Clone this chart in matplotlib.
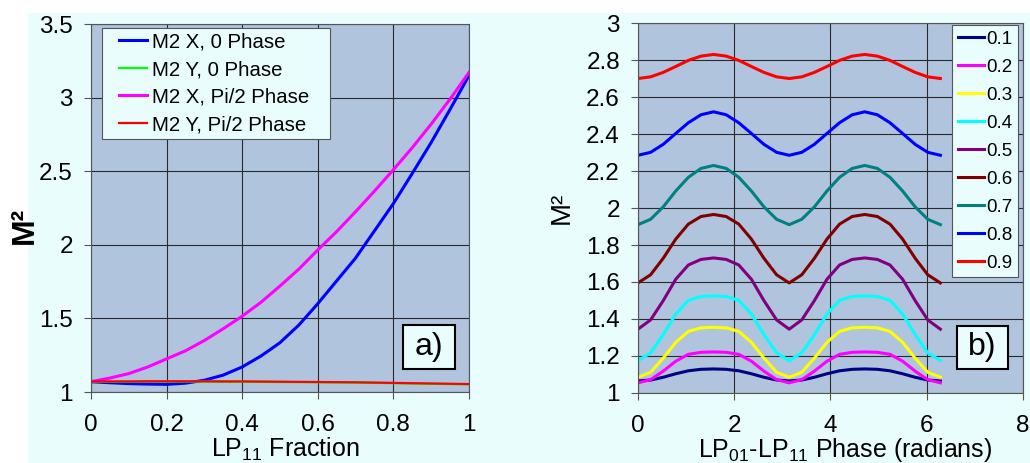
import matplotlib.pyplot as plt
from matplotlib.patches import Rectangle

plt.rcParams['font.family'] = ['Liberation Sans', 'DejaVu Sans']
plt.rcParams['mathtext.fontset'] = 'custom'
plt.rcParams['mathtext.rm'] = 'Liberation Sans'

# ---- panel a) data ----
fraction = [0.0, 0.05, 0.1, 0.15, 0.2, 0.25, 0.3, 0.35, 0.4, 0.45, 0.5,
            0.55, 0.6, 0.65, 0.7, 0.75, 0.8, 0.85, 0.9, 0.95, 1.0]
m2x_0 = [1.070, 1.063, 1.057, 1.054, 1.052, 1.060, 1.080, 1.115, 1.170, 1.245, 1.335,
         1.455, 1.600, 1.755, 1.910, 2.095, 2.280, 2.485, 2.695, 2.920, 3.150]
m2y_0 = [1.070, 1.070, 1.070, 1.071, 1.071, 1.071, 1.071, 1.070, 1.070, 1.069, 1.068,
         1.067, 1.066, 1.065, 1.064, 1.062, 1.060, 1.058, 1.056, 1.054, 1.052]
m2x_pi2 = [1.070, 1.095, 1.125, 1.170, 1.225, 1.280, 1.350, 1.430, 1.515, 1.610, 1.720,
           1.835, 1.965, 2.090, 2.225, 2.365, 2.510, 2.660, 2.820, 2.990, 3.170]
m2y_pi2 = [1.072, 1.072, 1.072, 1.073, 1.073, 1.073, 1.073, 1.072, 1.072, 1.071, 1.070,
           1.069, 1.068, 1.067, 1.066, 1.064, 1.062, 1.060, 1.058, 1.056, 1.054]
labels_a = ['M2 X, 0 Phase', 'M2 Y, 0 Phase', 'M2 X, Pi/2 Phase', 'M2 Y, Pi/2 Phase']
colors_a = ['#0000ff', '#00ff00', '#ff00ff', '#ff0000']

# ---- panel b) data ----
phase = [0.000, 0.262, 0.524, 0.785, 1.047, 1.309, 1.571, 1.833, 2.094, 2.356, 2.618, 2.880,
         3.142, 3.403, 3.665, 3.927, 4.189, 4.451, 4.712, 4.974, 5.236, 5.498, 5.760, 6.021, 6.283]
f01 = [1.065, 1.070, 1.085, 1.104, 1.120, 1.128, 1.130, 1.128, 1.120, 1.104, 1.085, 1.070,
       1.065, 1.070, 1.085, 1.104, 1.120, 1.128, 1.130, 1.128, 1.120, 1.104, 1.085, 1.070, 1.065]
f02 = [1.055, 1.072, 1.118, 1.172, 1.209, 1.220, 1.222, 1.220, 1.209, 1.172, 1.118, 1.072,
       1.055, 1.072, 1.118, 1.172, 1.209, 1.220, 1.222, 1.220, 1.209, 1.172, 1.118, 1.072, 1.055]
f03 = [1.085, 1.112, 1.188, 1.274, 1.333, 1.352, 1.355, 1.352, 1.333, 1.274, 1.188, 1.112,
       1.085, 1.112, 1.188, 1.274, 1.333, 1.352, 1.355, 1.352, 1.333, 1.274, 1.188, 1.112, 1.085]
f04 = [1.175, 1.217, 1.315, 1.427, 1.501, 1.522, 1.525, 1.522, 1.501, 1.427, 1.315, 1.217,
       1.175, 1.217, 1.315, 1.427, 1.501, 1.522, 1.525, 1.522, 1.501, 1.427, 1.315, 1.217, 1.175]
f05 = [1.345, 1.395, 1.499, 1.615, 1.692, 1.722, 1.730, 1.722, 1.692, 1.615, 1.499, 1.395,
       1.345, 1.395, 1.499, 1.615, 1.692, 1.722, 1.730, 1.722, 1.692, 1.615, 1.499, 1.395, 1.345]
f06 = [1.595, 1.639, 1.728, 1.832, 1.913, 1.954, 1.965, 1.954, 1.913, 1.832, 1.728, 1.639,
       1.595, 1.639, 1.728, 1.832, 1.913, 1.954, 1.965, 1.954, 1.913, 1.832, 1.728, 1.639, 1.595]
f07 = [1.910, 1.939, 2.006, 2.092, 2.166, 2.214, 2.230, 2.214, 2.166, 2.092, 2.006, 1.939,
       1.910, 1.939, 2.006, 2.092, 2.166, 2.214, 2.230, 2.214, 2.166, 2.092, 2.006, 1.939, 1.910]
f08 = [2.285, 2.301, 2.344, 2.403, 2.461, 2.504, 2.520, 2.504, 2.461, 2.403, 2.344, 2.301,
       2.285, 2.301, 2.344, 2.403, 2.461, 2.504, 2.520, 2.504, 2.461, 2.403, 2.344, 2.301, 2.285]
f09 = [2.700, 2.709, 2.733, 2.765, 2.798, 2.821, 2.830, 2.821, 2.798, 2.765, 2.733, 2.709,
       2.700, 2.709, 2.733, 2.765, 2.798, 2.821, 2.830, 2.821, 2.798, 2.765, 2.733, 2.709, 2.700]
labels_b = ['0.1', '0.2', '0.3', '0.4', '0.5', '0.6', '0.7', '0.8', '0.9']
colors_b = ['#000080', '#ff00ff', '#ffff00', '#00ffff', '#800080',
            '#800000', '#008080', '#0000ff', '#ff0000']

bg = '#e9fdfd'
face = '#b0c4de'
gridc = '#2a2a2a'

fig = plt.figure(figsize=(10.3, 4.63), dpi=100, facecolor='white')
fig.patches.append(Rectangle((0.0272, 0), 1, 0.972, transform=fig.transFigure,
                             facecolor=bg, edgecolor='none', zorder=-10))

ax1 = fig.add_axes([0.0883, 0.1533, 0.367, 0.7948])
ax2 = fig.add_axes([0.6194, 0.1512, 0.3738, 0.7991])

for ax in (ax1, ax2):
    ax.set_facecolor(face)
    ax.grid(True, color=gridc, lw=0.8)
    ax.set_axisbelow(True)
    for s in ax.spines.values():
        s.set_color('#555555')
        s.set_linewidth(0.8)
    ax.tick_params(direction='out', length=5, width=0.8, color='#555555', labelsize=17.5)
    ax.tick_params(axis='x', pad=11)
    ax.tick_params(axis='y', pad=8)

# panel a
series_a = [m2x_0, m2y_0, m2x_pi2, m2y_pi2]
widths_a = [2.2, 1.6, 2.2, 1.6]
for ys, c, lab, lw in zip(series_a, colors_a, labels_a, widths_a):
    ax1.plot(fraction, ys, color=c, lw=lw, label=lab)
ax1.set_xlim(0, 1)
ax1.set_ylim(1, 3.5)
ax1.set_xticks([0, 0.2, 0.4, 0.6, 0.8, 1])
ax1.set_xticklabels(['0', '0.2', '0.4', '0.6', '0.8', '1'])
ax1.set_yticks([1, 1.5, 2, 2.5, 3, 3.5])
ax1.set_yticklabels(['1', '1.5', '2', '2.5', '3', '3.5'])
ax1.set_xlabel(r'LP$_{\mathregular{11}}$ Fraction', fontsize=18)
ax1.xaxis.set_label_coords(0.513, -0.175)
ax1.xaxis.label.set_va('baseline')
ax1.set_ylabel('M²', fontsize=23, fontweight='bold')
ax1.yaxis.set_label_coords(-0.1746, 0.454)
ax1.yaxis.label.set_va('center')
# legend frame drawn separately so its padding matches the original box
ax1.add_patch(Rectangle((0.029, 0.6875), 0.603, 0.3015, transform=ax1.transAxes,
                        facecolor=bg, edgecolor='#555555', lw=0.8, zorder=4.5))
leg1 = ax1.legend(loc='upper left', bbox_to_anchor=(0.075, 0.977), borderaxespad=0,
                  fontsize=14.7, frameon=False, handlelength=1.35, handletextpad=0.25,
                  labelspacing=0.42, borderpad=0)
ax1.add_patch(Rectangle((0.825, 0.0625), 0.138, 0.12, transform=ax1.transAxes,
                        facecolor=bg, edgecolor='black', lw=1.5, zorder=5))
ax1.text(0.894, 0.1225, 'a)', transform=ax1.transAxes, fontsize=23,
         ha='center', va='center', zorder=6)

# panel b
series_b = [f01, f02, f03, f04, f05, f06, f07, f08, f09]
for ys, c, lab in zip(series_b, colors_b, labels_b):
    ax2.plot(phase, ys, color=c, lw=2.2, label=lab)
ax2.set_xlim(0, 8)
ax2.set_ylim(1, 3)
ax2.set_xticks([0, 2, 4, 6, 8])
ax2.set_yticks([1, 1.2, 1.4, 1.6, 1.8, 2, 2.2, 2.4, 2.6, 2.8, 3])
ax2.set_yticklabels(['1', '1.2', '1.4', '1.6', '1.8', '2', '2.2', '2.4', '2.6', '2.8', '3'])
ax2.set_xlabel(r'LP$_{\mathregular{01}}$-LP$_{\mathregular{11}}$ Phase (radians)', fontsize=18)
ax2.xaxis.set_label_coords(0.538, -0.172)
ax2.xaxis.label.set_va('baseline')
ax2.set_ylabel('M²', fontsize=20)
ax2.yaxis.set_label_coords(-0.197, 0.5)
ax2.yaxis.label.set_va('center')
leg2 = ax2.legend(loc='upper left', bbox_to_anchor=(0.816, 0.995), borderaxespad=0,
                  fontsize=13.5, fancybox=False, framealpha=1, facecolor=bg,
                  edgecolor='#555555', handlelength=1.4, handletextpad=0.1,
                  labelspacing=0.58, borderpad=0.3)
leg2.get_frame().set_linewidth(0.8)
ax2.add_patch(Rectangle((0.829, 0.065), 0.132, 0.116, transform=ax2.transAxes,
                        facecolor=bg, edgecolor='black', lw=1.5, zorder=5))
ax2.text(0.895, 0.123, 'b)', transform=ax2.transAxes, fontsize=23,
         ha='center', va='center', zorder=6)

fig.savefig('out.png', dpi=100, facecolor=fig.get_facecolor())
